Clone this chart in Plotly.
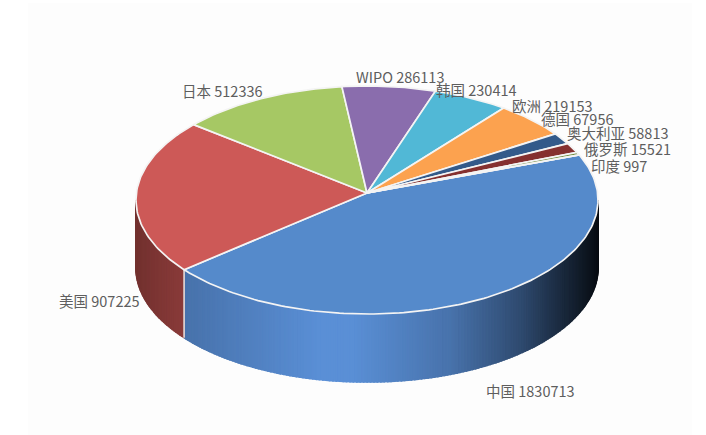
import math
import plotly.graph_objects as go

categories = ["中国", "美国", "日本", "WIPO", "韩国", "欧洲", "德国", "奥大利亚", "俄罗斯", "印度"]
values = [1830713, 907225, 512336, 286113, 230414, 219153, 67956, 58813, 15521, 997]
colors = ["#558ACB", "#CD5957", "#A6C864", "#8A6DAD", "#51B8D6", "#FCA24F", "#335A8A", "#85302F", "#6F8A3A", "#5B4580"]
wall_colors = ["#5A8FD6", "#AE4A48"]
label_pos = [(530, 390), (99, 300), (222, 90), (400, 76), (476, 89), (552, 105), (577, 118), (618, 132), (627, 148), (619, 165)]

CX, CY = 367, 193
A, B, K = 230.6, 113.6, 0.0614
DEPTH = 68
START = 20.0


def proj(deg):
    r = math.radians(deg)
    u, v = math.cos(r), math.sin(r)
    w = 1 + K * v
    return CX + A * u / w, CY - B * v / w


def shade(x):
    pts = [(130, .64), (185, .80), (320, 1.0), (350, 1.0), (450, .80), (520, .52), (570, .24), (598, .08)]
    for (x0, f0), (x1, f1) in zip(pts, pts[1:]):
        if x <= x1:
            return f0 + (f1 - f0) * (x - x0) / (x1 - x0)
    return pts[-1][1]


def mul(c, f):
    r, g, b = (int(c[i:i + 2], 16) for i in (1, 3, 5))
    return f"rgb({r * f:.0f},{g * f:.0f},{b * f:.0f})"


fig = go.Figure()
total = sum(values)
a = START
spans = []
for v in values:
    s = v / total * 360
    spans.append((a, a - s))
    a -= s

# side wall strips: front half only (from right extreme round to left extreme)
FRONT_R, FRONT_L = -3.5, -176.5
for idx in (0, 1):
    a0, a1 = spans[idx]
    a0 = min(a0, FRONT_R)
    a1 = max(a1, FRONT_L)
    n = max(4, int((a0 - a1) / 0.8))
    for i in range(n):
        t0 = a0 + (a1 - a0) * i / n
        t1 = a0 + (a1 - a0) * (i + 1) / n
        x0, y0 = proj(t0)
        x1, y1 = proj(t1)
        col = mul(wall_colors[idx], shade((x0 + x1) / 2))
        fig.add_trace(go.Scatter(
            x=[x0, x1, x1, x0, x0], y=[y0, y1, y1 + DEPTH, y0 + DEPTH, y0],
            mode="lines", fill="toself", fillcolor=col, line=dict(color=col, width=1.6),
            hoverinfo="skip", showlegend=False))

# white seam on the wall between the two front slices
sx, sy = proj(spans[0][1])
fig.add_trace(go.Scatter(x=[sx, sx], y=[sy, sy + DEPTH], mode="lines",
                         line=dict(color="#E8E8E8", width=1.5), hoverinfo="skip", showlegend=False))

# top faces
for (a0, a1), col, name, val in zip(spans, colors, categories, values):
    n = max(2, int((a0 - a1) / 1.0))
    pts = [proj(a0 + (a1 - a0) * i / n) for i in range(n + 1)]
    xs = [CX] + [p[0] for p in pts] + [CX]
    ys = [CY] + [p[1] for p in pts] + [CY]
    fig.add_trace(go.Scatter(x=xs, y=ys, mode="lines", fill="toself", fillcolor=col,
                             line=dict(color="#F4F4F4", width=1.7), name=name,
                             hoverinfo="text", text=f"{name} {val}", showlegend=False))

for name, val, (lx, ly) in zip(categories, values, label_pos):
    fig.add_annotation(x=lx, y=ly, text=f"{name} {val}", showarrow=False,
                       font=dict(family="Noto Sans CJK SC, Noto Sans", size=14.5, color="#5E5E5E"))

fig.update_layout(
    width=706, height=435, margin=dict(l=0, r=0, t=0, b=0),
    paper_bgcolor="white", plot_bgcolor="rgba(0,0,0,0)",
    xaxis=dict(range=[0, 706], visible=False, fixedrange=True),
    yaxis=dict(range=[435, 0], visible=False, fixedrange=True),
    shapes=[dict(type="rect", layer="below", x0=28, y0=3, x1=692, y1=435,
                 fillcolor="#FDFDFD", line=dict(width=0))],
)
fig.write_html("out.html", config=dict(displayModeBar=False),
               post_script="document.body.style.margin='0';document.body.style.overflow='hidden';")
